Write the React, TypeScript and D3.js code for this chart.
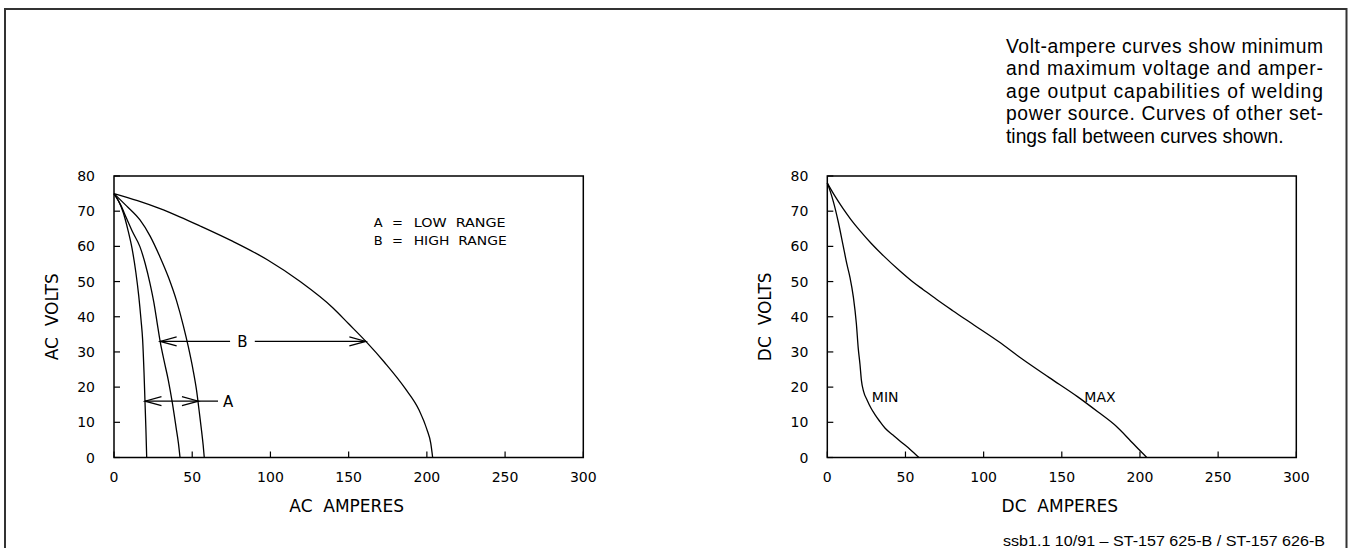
import React, { useEffect } from 'react';
import * as d3 from 'd3';

type Pt = [number, number];

// Axis ticks
const xTicks = [0, 50, 100, 150, 200, 250, 300];
const yTicks = [0, 10, 20, 30, 40, 50, 60, 70, 80];

// AC volt-ampere curves [amperes, volts]
const acLowMin: Pt[] = [[0,75],[3,72.8],[6,69.5],[9,64.5],[11.5,59.5],[14,52.5],[15.8,46],[17.3,39],[18.3,33.5],[19.2,24],[19.8,16],[20.4,8],[20.9,0]];
const acHighMin: Pt[] = [[0,75],[4,72],[8,68],[12,64],[16.5,60],[20,55],[23,49.5],[25.5,44],[27.5,38.5],[29.5,33],[32,27.5],[34.7,22],[37.3,15.5],[39.7,8.5],[41.2,4],[42.2,0]];
const acLowMax: Pt[] = [[0,75],[8,71.5],[16.6,67.5],[23,63],[29.4,57],[35,51],[40,44.5],[44.3,37.5],[47.5,31.5],[50.5,25],[52.8,19],[54.5,13],[56,7.5],[57,3.5],[57.7,0]];
const acHighMax: Pt[] = [[0,75],[15,73],[29,70.8],[42,68.4],[55,65.8],[76,61.4],[98,56.2],[119,50],[140,42.5],[150,38],[161,33],[173,27],[186,19.7],[195,13.5],[200,8],[202.5,4],[203.7,0]];

// DC volt-ampere curves
const dcMin: Pt[] = [[0,78],[2,75.5],[4,72.5],[7,67],[10,60.5],[12.5,55],[14.5,51.2],[16.7,45.5],[18.6,38],[19.8,31],[20.9,26.5],[21.8,22],[23.2,18.8],[25.5,16.3],[28,14],[30.5,12.2],[33.5,10.3],[37,8.3],[42,6.4],[47,4.5],[53,2.3],[58.6,0]];
const dcMax: Pt[] = [[0,78],[5,74.2],[10,70.8],[15,67.7],[21,64.4],[28,60.9],[36,57.3],[46.5,53],[55,49.8],[61.4,47.7],[70,44.9],[80,41.8],[94,37.6],[110,32.8],[124,28.2],[142,22.7],[160,17.3],[173,13],[185,8.8],[193,5.2],[199,2.4],[204.4,0]];

// Annotation values (data coordinates)
const arrowA = { volts: 16, from: 19.8, to: 54, lineEnd: 66.5, label: 'A', labelAt: 73 };
const arrowB = { volts: 33, from: 29.5, to: 161, gapStart: 74.2, gapEnd: 90, label: 'B', labelAt: 82 };
const legendRows = [['A', 'LOW  RANGE'], ['B', 'HIGH  RANGE']];

const noteLines = [
  'Volt-ampere curves show minimum',
  'and maximum voltage and amper-',
  'age output capabilities of welding',
  'power source. Curves of other set-',
  'tings fall between curves shown.',
];
const footer = 'ssb1.1 10/91 \u2013 ST-157 625-B / ST-157 626-B';

const W = 1351;
const H = 548;
const chartFont = "'DejaVu Sans', sans-serif";
const textFont = "'Liberation Sans', Arial, sans-serif";
const pre = { whiteSpace: 'pre' as const };

const yScale = d3.scaleLinear().domain([0, 80]).range([457.5, 176]);
const acX = d3.scaleLinear().domain([0, 300]).range([114, 583.3]);
const dcX = d3.scaleLinear().domain([0, 300]).range([827.3, 1296.3]);

function Axes({ x, xTitle, yTitle }: { x: d3.ScaleLinear<number, number>; xTitle: string; yTitle: string }) {
  const [x0, x1] = x.range();
  const [y0, y1] = yScale.range();
  return (
    <g>
      <rect x={x0} y={y1} width={x1 - x0} height={y0 - y1} fill="none" stroke="#000" strokeWidth={1.5} />
      {xTicks.map((t) => (
        <g key={'x' + t}>
          <line x1={x(t)} x2={x(t)} y1={y0} y2={y0 - 6} stroke="#000" strokeWidth={1.2} />
          <text x={x(t)} y={y0 + 24} textAnchor="middle" fontFamily={chartFont} fontSize={14}>{t}</text>
        </g>
      ))}
      {yTicks.map((t) => (
        <g key={'y' + t}>
          <line x1={x0} x2={x0 + 6} y1={yScale(t)} y2={yScale(t)} stroke="#000" strokeWidth={1.2} />
          <text x={x0 - 19} y={yScale(t) + 5} textAnchor="end" fontFamily={chartFont} fontSize={14}>{t}</text>
        </g>
      ))}
      <text x={(x0 + x1) / 2 - 2} y={y0 + 54} textAnchor="middle" fontFamily={chartFont} fontSize={17}
        xmlSpace="preserve" style={pre}>{xTitle}</text>
      <text transform={`translate(${x0 - 56},${(y0 + y1) / 2}) rotate(-90)`} textAnchor="middle" fontFamily={chartFont}
        fontSize={17} xmlSpace="preserve" style={pre}>{yTitle}</text>
    </g>
  );
}

function head(tx: number, ty: number, dir: number) {
  const L = 16.5, h = 4.5;
  return `M${tx - dir * L},${ty - h}L${tx},${ty}L${tx - dir * L},${ty + h}`;
}

export default function App() {
  useEffect(() => {
    document.body.style.margin = '0';
    document.body.style.overflow = 'hidden';
  }, []);

  const acLine = d3.line<Pt>().x((d) => acX(d[0])).y((d) => yScale(d[1])).curve(d3.curveMonotoneX);
  const dcLine = d3.line<Pt>().x((d) => dcX(d[0])).y((d) => yScale(d[1])).curve(d3.curveMonotoneX);

  const ay = yScale(arrowA.volts);
  const by = yScale(arrowB.volts);
  const lgX = acX(166);
  const lgY = yScale(65.5);

  return (
    <svg width={W} height={H} style={{ position: 'absolute', left: 0, top: 0, background: '#fff' }}>
      <rect x={0} y={0} width={W} height={H} fill="#fff" />
      {/* outer frame */}
      <path d={`M5,${H + 10}V9H1346.5V${H + 10}`} fill="none" stroke="#333" strokeWidth={2} />

      {/* note */}
      {noteLines.map((s, i) => (
        <text key={i} x={1006} y={53 + i * 22.4} fontFamily={textFont} fontSize={19.3}
          {...(i < noteLines.length - 1 ? { textLength: 317, lengthAdjust: 'spacing' } : {})}>{s}</text>
      ))}

      {/* AC chart */}
      <Axes x={acX} xTitle={'AC  AMPERES'} yTitle={'AC  VOLTS'} />
      {[acLowMin, acHighMin, acLowMax, acHighMax].map((c, i) => (
        <path key={i} d={acLine(c) || ''} fill="none" stroke="#000" strokeWidth={1.3} />
      ))}
      {/* arrow A */}
      <line x1={acX(arrowA.from)} x2={acX(arrowA.lineEnd)} y1={ay} y2={ay} stroke="#000" strokeWidth={1.2} />
      <path d={head(acX(arrowA.from), ay, -1)} fill="none" stroke="#000" strokeWidth={1.2} />
      <path d={head(acX(arrowA.to), ay, 1)} fill="none" stroke="#000" strokeWidth={1.2} />
      <text x={acX(arrowA.labelAt)} y={ay + 5.5} textAnchor="middle" fontFamily={chartFont} fontSize={15}>{arrowA.label}</text>
      {/* arrow B */}
      <line x1={acX(arrowB.from)} x2={acX(arrowB.gapStart)} y1={by} y2={by} stroke="#000" strokeWidth={1.2} />
      <line x1={acX(arrowB.gapEnd)} x2={acX(arrowB.to)} y1={by} y2={by} stroke="#000" strokeWidth={1.2} />
      <path d={head(acX(arrowB.from), by, -1)} fill="none" stroke="#000" strokeWidth={1.2} />
      <path d={head(acX(arrowB.to), by, 1)} fill="none" stroke="#000" strokeWidth={1.2} />
      <text x={acX(arrowB.labelAt)} y={by + 5.5} textAnchor="middle" fontFamily={chartFont} fontSize={15}>{arrowB.label}</text>
      {/* legend */}
      {legendRows.map((r, i) => (
        <g key={i} fontFamily={chartFont} fontSize={13}>
          <text x={lgX} y={lgY + i * 17.7}>{r[0]}</text>
          <text x={lgX + 18.4} y={lgY + i * 17.7}>=</text>
          <text x={lgX + 40} y={lgY + i * 17.7} textLength={i === 0 ? 92 : 93} lengthAdjust="spacingAndGlyphs"
            xmlSpace="preserve" style={pre}>{r[1]}</text>
        </g>
      ))}

      {/* DC chart */}
      <Axes x={dcX} xTitle={'DC  AMPERES'} yTitle={'DC  VOLTS'} />
      <path d={dcLine(dcMin) || ''} fill="none" stroke="#000" strokeWidth={1.3} />
      <path d={dcLine(dcMax) || ''} fill="none" stroke="#000" strokeWidth={1.3} />
      <text x={dcX(28.5)} y={yScale(17.3) + 5} fontFamily={chartFont} fontSize={14}>MIN</text>
      <text x={dcX(164.4)} y={yScale(17.3) + 5} fontFamily={chartFont} fontSize={14}>MAX</text>

      {/* footer */}
      <text x={1003} y={546} fontFamily={textFont} fontSize={15.5} textLength={322} lengthAdjust="spacingAndGlyphs">{footer}</text>
    </svg>
  );
}
